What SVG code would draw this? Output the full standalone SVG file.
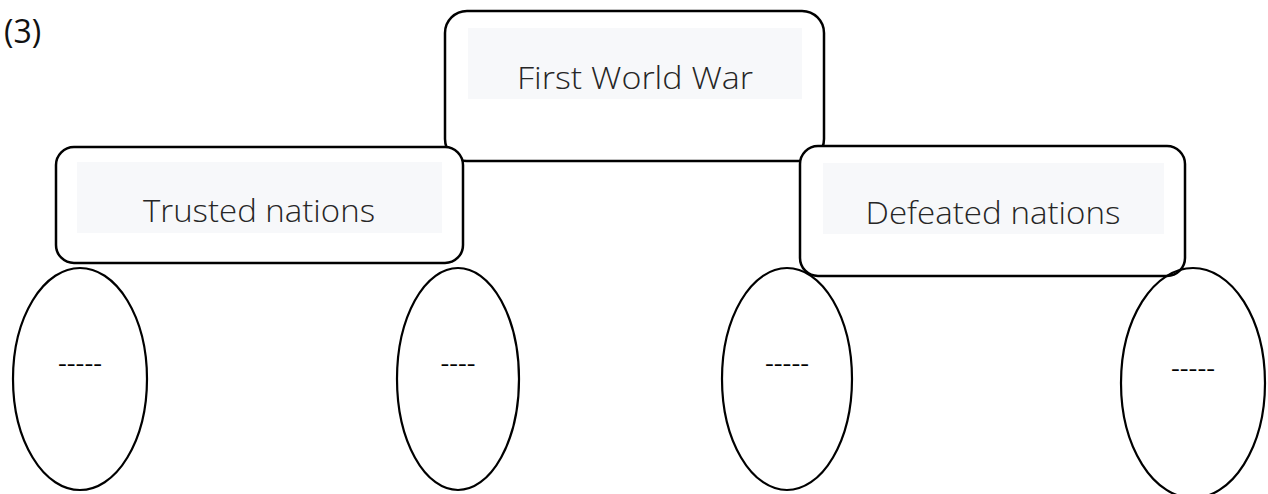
<svg xmlns="http://www.w3.org/2000/svg" width="1268" height="494" viewBox="0 0 1268 494">
<style>
.box{fill:#fff;stroke:#000;stroke-width:2.5}
.inner{fill:#f7f8fa}
.lbl{font-family:"Open Sans","Liberation Sans",sans-serif;font-weight:300;font-size:31px;fill:#262626;text-anchor:middle}
.ell{fill:none;stroke:#000;stroke-width:2.2}
.dash{font-family:"Open Sans","Liberation Sans",sans-serif;font-size:24px;fill:#000;text-anchor:middle}
</style>
<rect width="1268" height="494" fill="#fff"/>
<text x="4" y="43" font-family="'Open Sans','Liberation Sans',sans-serif" font-size="32" fill="#111">(3)</text>
<g id="connectors"></g>
<g id="n-war">
<rect class="box" x="445" y="11" width="379" height="150" rx="22"/>
<rect class="inner" x="468" y="28" width="334" height="71"/>
<text class="lbl" x="635" y="89" textLength="236" lengthAdjust="spacingAndGlyphs">First World War</text>
</g>
<g id="n-trusted">
<rect class="box" x="56" y="147" width="407" height="116" rx="18"/>
<rect class="inner" x="77" y="162" width="365" height="71"/>
<text class="lbl" x="259" y="222" textLength="232" lengthAdjust="spacingAndGlyphs">Trusted nations</text>
</g>
<g id="n-defeated">
<rect class="box" x="800" y="146" width="385" height="130" rx="18"/>
<rect class="inner" x="823" y="163" width="341" height="71"/>
<text class="lbl" x="993" y="224" textLength="255" lengthAdjust="spacingAndGlyphs">Defeated nations</text>
</g>
<g id="n-e1">
<ellipse class="ell" cx="80" cy="379" rx="67" ry="111"/>
<text class="dash" x="80" y="372" textLength="44" lengthAdjust="spacingAndGlyphs">-----</text>
</g>
<g id="n-e2">
<ellipse class="ell" cx="458" cy="379" rx="61" ry="111"/>
<text class="dash" x="458" y="372" textLength="35" lengthAdjust="spacingAndGlyphs">----</text>
</g>
<g id="n-e3">
<ellipse class="ell" cx="787" cy="379" rx="65" ry="111"/>
<text class="dash" x="787" y="372" textLength="44" lengthAdjust="spacingAndGlyphs">-----</text>
</g>
<g id="n-e4">
<ellipse class="ell" cx="1193" cy="383" rx="72" ry="115"/>
<text class="dash" x="1193" y="377" textLength="44" lengthAdjust="spacingAndGlyphs">-----</text>
</g>
</svg>
